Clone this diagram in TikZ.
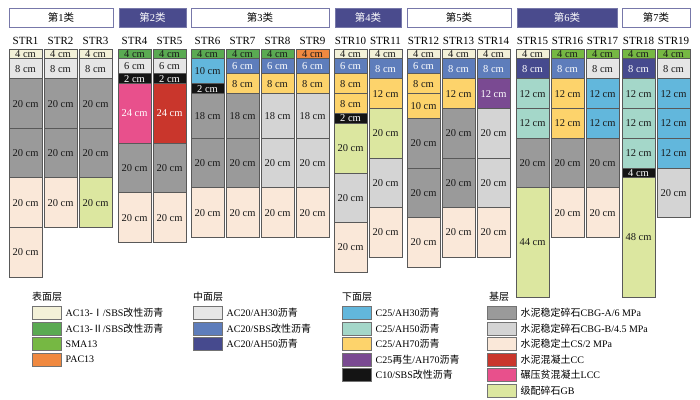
\documentclass[tikz,border=0pt]{standalone}
\usepackage{fontspec}
\setmainfont{Liberation Serif}
\newfontfamily\cjk{Noto Sans CJK SC}
\newcommand{\zh}[1]{{\cjk #1}}
\usetikzlibrary{positioning}

\definecolor{cAcI}{HTML}{F3F1D8}
\definecolor{cAcII}{HTML}{5AAA52}
\definecolor{cSma}{HTML}{76B843}
\definecolor{cPac}{HTML}{F08940}
\definecolor{cMidA}{HTML}{E6E6E6}
\definecolor{cMidS}{HTML}{5E7DBB}
\definecolor{cMidB}{HTML}{464A8E}
\definecolor{cLowA}{HTML}{62B7DC}
\definecolor{cLowB}{HTML}{A4D7C9}
\definecolor{cLowC}{HTML}{FDD36B}
\definecolor{cLowR}{HTML}{7A4A92}
\definecolor{cLowS}{HTML}{141414}
\definecolor{cCbgA}{HTML}{9A9A9A}
\definecolor{cCbgB}{HTML}{D4D4D4}
\definecolor{cCs}{HTML}{FAE8D9}
\definecolor{cCc}{HTML}{C9362C}
\definecolor{cLcc}{HTML}{E8508C}
\definecolor{cGb}{HTML}{DCE7A0}
\definecolor{cHead}{HTML}{4A4B8D}

\tikzset{
  layer/.style={draw=black!65, line width=1pt, inner sep=0pt, outer sep=0pt,
    minimum width=33pt, anchor=north west, text=black!90,
    font=\fontsize{10.5}{11}\selectfont},
  strlab/.style={font=\fontsize{11}{12}\selectfont, inner sep=0pt},
  grp/.style={draw=cHead!75, line width=0.8pt, fill=white, minimum height=19pt,
    inner sep=0pt, font=\fontsize{10.5}{11}\selectfont},
  grpdark/.style={grp, fill=cHead, text=white},
  swatch/.style={draw=black!55, line width=1pt, minimum width=29pt, minimum height=13pt, inner sep=0pt},
  legtext/.style={inner sep=0pt, anchor=west, font=\fontsize{10}{11}\selectfont},
  legtitle/.style={inner sep=0pt, anchor=west, font=\fontsize{10}{11}\selectfont},
  % layer materials
  acI/.style={fill=cAcI},
  acII/.style={fill=cAcII},
  sma/.style={fill=cSma},
  pac/.style={fill=cPac},
  midA/.style={fill=cMidA},
  midS/.style={fill=cMidS, text=white},
  midB/.style={fill=cMidB, text=white},
  lowA/.style={fill=cLowA},
  lowB/.style={fill=cLowB},
  lowC/.style={fill=cLowC},
  lowR/.style={fill=cLowR, text=white},
  lowS/.style={fill=cLowS, text=white},
  cbgA/.style={fill=cCbgA},
  cbgB/.style={fill=cCbgB},
  csoil/.style={fill=cCs},
  ccon/.style={fill=cCc, text=white},
  lcc/.style={fill=cLcc, text=white},
  gb/.style={fill=cGb}
}

% one structure column: number, left x, list of style/thickness
\newcommand{\strcol}[3]{%
  \node[strlab] (lab#1) at (#2+16.5,41) {STR#1};
  \xdef\ytop{49}%
  \foreach \ly/\thk [count=\i] in {#3} {
    \pgfmathsetmacro{\hgt}{2.48*max(\thk,4)}
    \node[layer, style=\ly, minimum height=\hgt pt] (s#1-\i) at (#2,\ytop) {\thk\ cm};
    \pgfmathsetmacro{\ynew}{\ytop+\hgt}
    \xdef\ytop{\ynew}
  }
}

% legend entry: name, style, x, y, text
\newcommand{\legitem}[5]{%
  \node[swatch, style=#2] (#1) at (#3,#4) {};
  \node[legtext, right=4pt of #1] (#1t) {#5};
}

\begin{document}
\begin{tikzpicture}[x=1pt, y=-1pt]
\useasboundingbox (0,0) rectangle (700,399);

% group headers
\node[grp, minimum width=104pt] (g1) at (61,17.5) {\zh{第}1\zh{类}};
\node[grpdark, minimum width=67pt] (g2) at (152.5,17.5) {\zh{第}2\zh{类}};
\node[grp, minimum width=138pt] (g3) at (260,17.5) {\zh{第}3\zh{类}};
\node[grpdark, minimum width=66pt] (g4) at (368,17.5) {\zh{第}4\zh{类}};
\node[grp, minimum width=104pt] (g5) at (459,17.5) {\zh{第}5\zh{类}};
\node[grpdark, minimum width=100pt] (g6) at (567,17.5) {\zh{第}6\zh{类}};
\node[grp, minimum width=68pt] (g7) at (656,17.5) {\zh{第}7\zh{类}};

% structures
\strcol{1}{9}{acI/4, midA/8, cbgA/20, cbgA/20, csoil/20, csoil/20}
\strcol{2}{44}{acI/4, midA/8, cbgA/20, cbgA/20, csoil/20}
\strcol{3}{79}{acI/4, midA/8, cbgA/20, cbgA/20, gb/20}
\strcol{4}{118}{acII/4, midA/6, lowS/2, lcc/24, cbgA/20, csoil/20}
\strcol{5}{153}{acII/4, midA/6, lowS/2, ccon/24, cbgA/20, csoil/20}
\strcol{6}{191}{acII/4, lowA/10, lowS/2, cbgA/18, cbgA/20, csoil/20}
\strcol{7}{226}{acII/4, midS/6, lowC/8, cbgA/18, cbgA/20, csoil/20}
\strcol{8}{261}{acII/4, midS/6, lowC/8, cbgB/18, cbgB/20, csoil/20}
\strcol{9}{296}{pac/4, midS/6, lowC/8, cbgB/18, cbgB/20, csoil/20}
\strcol{10}{334}{acI/4, midS/6, lowC/8, lowC/8, lowS/2, gb/20, cbgB/20, csoil/20}
\strcol{11}{369}{acI/4, midS/8, lowC/12, gb/20, cbgB/20, csoil/20}
\strcol{12}{407}{acI/4, midS/6, lowC/8, lowC/10, cbgA/20, cbgA/20, csoil/20}
\strcol{13}{442}{acI/4, midS/8, lowC/12, cbgA/20, cbgA/20, csoil/20}
\strcol{14}{477}{acI/4, midS/8, lowR/12, cbgB/20, cbgB/20, csoil/20}
\strcol{15}{516}{acI/4, midB/8, lowB/12, lowB/12, cbgA/20, gb/44}
\strcol{16}{551}{sma/4, midS/8, lowC/12, lowC/12, cbgA/20, csoil/20}
\strcol{17}{586}{sma/4, midA/8, lowA/12, lowA/12, cbgA/20, csoil/20}
\strcol{18}{622}{sma/4, midB/8, lowB/12, lowB/12, lowB/12, lowS/4, gb/48}
\strcol{19}{657}{sma/4, midA/8, lowA/12, lowA/12, lowA/12, cbgB/20}

% legend
\node[legtitle] (t1) at (32,297) {\zh{表面层}};
\legitem{k11}{acI}{46.5}{313}{AC13-\zh{Ⅰ}/SBS\zh{改性沥青}}
\legitem{k12}{acII}{46.5}{328.5}{AC13-\zh{Ⅱ}/SBS\zh{改性沥青}}
\legitem{k13}{sma}{46.5}{344}{SMA13}
\legitem{k14}{pac}{46.5}{359.5}{PAC13}

\node[legtitle] (t2) at (193,297) {\zh{中面层}};
\legitem{k21}{midA}{207.5}{313}{AC20/AH30\zh{沥青}}
\legitem{k22}{midS}{207.5}{328.5}{AC20/SBS\zh{改性沥青}}
\legitem{k23}{midB}{207.5}{344}{AC20/AH50\zh{沥青}}

\node[legtitle] (t3) at (342,297) {\zh{下面层}};
\legitem{k31}{lowA}{356.5}{313}{C25/AH30\zh{沥青}}
\legitem{k32}{lowB}{356.5}{328.5}{C25/AH50\zh{沥青}}
\legitem{k33}{lowC}{356.5}{344}{C25/AH70\zh{沥青}}
\legitem{k34}{lowR}{356.5}{359.5}{C25\zh{再生}/AH70\zh{沥青}}
\legitem{k35}{lowS}{356.5}{375}{C10/SBS\zh{改性沥青}}

\node[legtitle] (t4) at (489,297) {\zh{基层}};
\legitem{k41}{cbgA}{501.5}{313}{\zh{水泥稳定碎石}CBG-A/6 MPa}
\legitem{k42}{cbgB}{501.5}{328.5}{\zh{水泥稳定碎石}CBG-B/4.5 MPa}
\legitem{k43}{csoil}{501.5}{344}{\zh{水泥稳定土}CS/2 MPa}
\legitem{k44}{ccon}{501.5}{359.5}{\zh{水泥混凝土}CC}
\legitem{k45}{lcc}{501.5}{375}{\zh{碾压贫混凝土}LCC}
\legitem{k46}{gb}{501.5}{390.5}{\zh{级配碎石}GB}
\end{tikzpicture}
\end{document}
